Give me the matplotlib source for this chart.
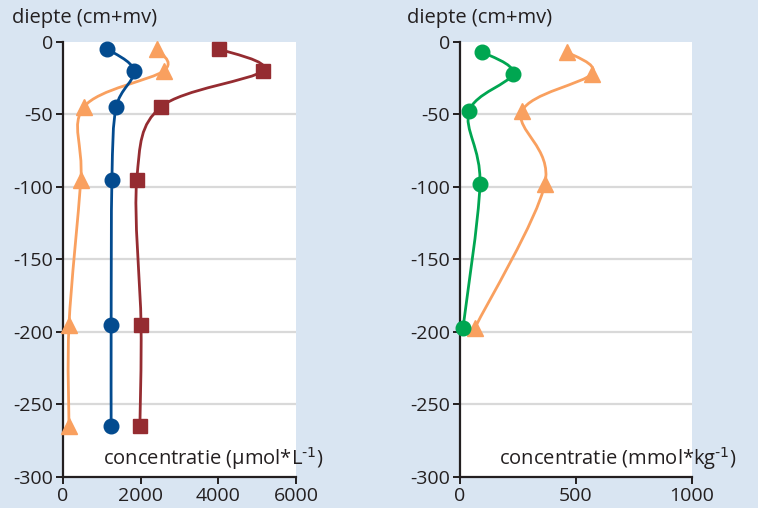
import numpy as np
import matplotlib
matplotlib.use("Agg")
import matplotlib.pyplot as plt
from matplotlib.path import Path
from matplotlib.patches import PathPatch

plt.rcParams['font.family'] = ['Open Sans', 'DejaVu Sans']
plt.rcParams['mathtext.default'] = 'regular'

# left panel: porewater (umol/L)
depth_l = [-5, -20, -45, -95, -195, -265]
blue_l = [1140, 1830, 1370, 1260, 1240, 1240]
red_l = [4020, 5150, 2520, 1900, 2010, 1980]
orange_l = [2420, 2600, 540, 460, 155, 155]

# right panel: solid phase (mmol/kg)
depth_r = [-7, -22, -48, -98, -197]
green_r = [95, 228, 39, 86, 13]
orange_r = [461, 569, 267, 366, 65]

yticks = [0, -50, -100, -150, -200, -250, -300]
ytick_labels = ['0', '-50', '-100', '-150', '-200', '-250', '-300']
xticks_l = [0, 2000, 4000, 6000]
xticks_r = [0, 500, 1000]

BG = '#d9e5f2'
BLUE = '#034b8f'
RED = '#952c31'
ORANGE = '#f9a05f'
GREEN = '#00a651'
INK = '#231f20'


def smooth_line(ax, xs, ys, color):
    # Catmull-Rom style smoothed line like the spreadsheet chart
    pts = np.column_stack([xs, ys]).astype(float)
    n = len(pts)
    verts = [pts[0]]
    codes = [Path.MOVETO]
    for i in range(n - 1):
        p0 = pts[i - 1] if i > 0 else pts[i]
        p1 = pts[i]
        p2 = pts[i + 1]
        p3 = pts[i + 2] if i + 2 < n else pts[i + 1]
        c1 = p1 + (p2 - p0) / 6.0
        c2 = p2 - (p3 - p1) / 6.0
        verts += [c1, c2, p2]
        codes += [Path.CURVE4] * 3
    ax.add_patch(PathPatch(Path(verts, codes), fill=False, edgecolor=color, lw=2.0, zorder=3))


def style_axes(ax, xticks, xmax):
    ax.set_facecolor('white')
    ax.set_xlim(0, xmax)
    ax.set_ylim(-300, 0)
    ax.set_yticks(yticks)
    ax.set_yticklabels(ytick_labels)
    ax.set_xticks(xticks)
    ax.set_xticklabels([str(t) for t in xticks])
    for s in ['top', 'right']:
        ax.spines[s].set_visible(False)
    for s in ['left', 'bottom']:
        ax.spines[s].set_linewidth(1.6)
        ax.spines[s].set_color(INK)
    ax.tick_params(direction='out', length=5, width=1.4, color=INK,
                   labelsize=14, labelcolor=INK, pad=2)
    for y in [-50, -100, -150, -200, -250]:
        ax.axhline(y, color='#d9d9d9', lw=1.6, zorder=1)


fig = plt.figure(figsize=(7.58, 5.08), dpi=100)
fig.patch.set_facecolor(BG)

ax1 = fig.add_axes([0.0831, 0.061, 0.3074, 0.857])
ax2 = fig.add_axes([0.6069, 0.061, 0.306, 0.857])

style_axes(ax1, xticks_l, 6000)
style_axes(ax2, xticks_r, 1000)

# left panel series
smooth_line(ax1, orange_l, depth_l, ORANGE)
ax1.plot(orange_l, depth_l, '^', color=ORANGE, ms=11, zorder=4, clip_on=False)
smooth_line(ax1, blue_l, depth_l, BLUE)
ax1.plot(blue_l, depth_l, 'o', color=BLUE, ms=10.5, zorder=4, clip_on=False)
smooth_line(ax1, red_l, depth_l, RED)
ax1.plot(red_l, depth_l, 's', color=RED, ms=9.5, zorder=4, clip_on=False)

# right panel series
smooth_line(ax2, orange_r, depth_r, ORANGE)
ax2.plot(orange_r, depth_r, '^', color=ORANGE, ms=11, zorder=4, clip_on=False)
smooth_line(ax2, green_r, depth_r, GREEN)
ax2.plot(green_r, depth_r, 'o', color=GREEN, ms=10.5, zorder=4, clip_on=False)

ax1.text(0.17, 0.012, r'concentratie (μmol*L$^{\text{-1}}$)', transform=ax1.transAxes,
         fontsize=14.5, color=INK, ha='left', va='bottom', clip_on=False)
ax2.text(0.17, 0.012, r'concentratie (mmol*kg$^{\text{-1}}$)', transform=ax2.transAxes,
         fontsize=14.5, color=INK, ha='left', va='bottom', clip_on=False)

fig.text(12 / 758, 1 - 18 / 508, 'diepte (cm+mv)', fontsize=14.5, color=INK,
         ha='left', va='center')
fig.text(407 / 758, 1 - 18 / 508, 'diepte (cm+mv)', fontsize=14.5, color=INK,
         ha='left', va='center')

fig.savefig('out.png', dpi=100, facecolor=BG)
